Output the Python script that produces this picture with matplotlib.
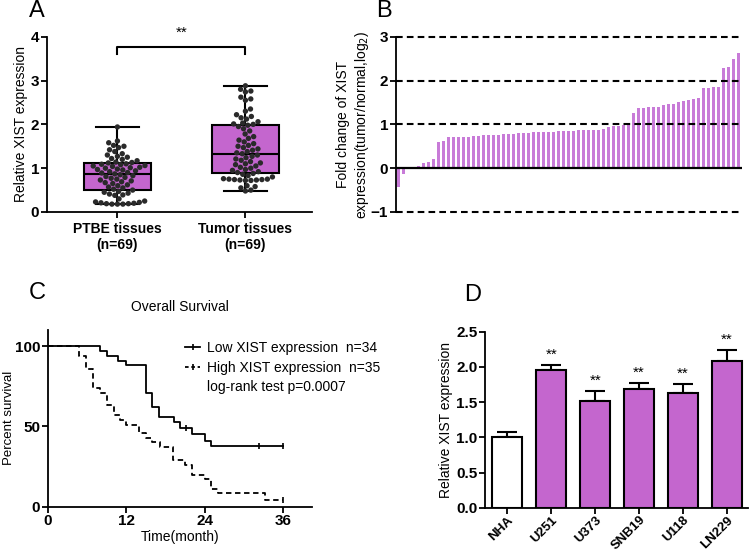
import numpy as np
import matplotlib
matplotlib.use('Agg')
import matplotlib.pyplot as plt
from matplotlib.lines import Line2D

plt.rcParams['font.family'] = ['Liberation Sans', 'DejaVu Sans']
plt.rcParams['axes.linewidth'] = 1.3
plt.rcParams['xtick.major.width'] = 1.3
plt.rcParams['ytick.major.width'] = 1.3
plt.rcParams['xtick.major.size'] = 4
plt.rcParams['ytick.major.size'] = 4

# ---------------- Panel A data ----------------
group_labels = ['PTBE tissues\n(n=69)', 'Tumor tissues\n(n=69)']
ptbe_values = [0.18, 0.18, 0.18, 0.19, 0.19, 0.20, 0.21, 0.22, 0.23, 0.25, 0.30, 0.38, 0.39, 0.41, 0.43, 0.45, 0.47,
               0.50,
               0.52, 0.55, 0.57, 0.60, 0.62, 0.65, 0.67, 0.69, 0.71, 0.73, 0.75, 0.77, 0.79, 0.81, 0.83, 0.85,
               0.87,
               0.89, 0.90, 0.92, 0.94, 0.96, 0.97, 0.98, 1.00, 1.01, 1.02, 1.04, 1.05, 1.06, 1.08, 1.09, 1.10,
               1.12,
               1.13, 1.14, 1.17, 1.20, 1.22, 1.25, 1.27, 1.30, 1.33, 1.38, 1.42, 1.47, 1.50, 1.52, 1.58, 1.62, 1.94]
tumor_values = [0.48, 0.50, 0.55, 0.58, 0.60, 0.72, 0.72, 0.73, 0.73, 0.74, 0.74, 0.75, 0.75, 0.76, 0.80, 0.83, 0.86,
                0.88,
                0.90, 0.92, 0.95, 0.97, 1.00, 1.02, 1.05, 1.08, 1.10, 1.12, 1.15, 1.18, 1.21, 1.24, 1.27, 1.30,
                1.33,
                1.35, 1.38, 1.41, 1.44, 1.47, 1.50, 1.52, 1.56, 1.60, 1.64, 1.68, 1.72, 1.78, 1.85, 1.90, 1.95,
                1.98,
                2.00, 2.01, 2.03, 2.06, 2.12, 2.15, 2.18, 2.22, 2.30, 2.35, 2.55, 2.58, 2.62, 2.74, 2.76, 2.80, 2.88]

# ---------------- Panel B data ----------------
fold_change = [-0.42, -0.13, 0.01, 0.02, 0.05, 0.12, 0.15, 0.20, 0.60, 0.63,
               0.71, 0.71, 0.71, 0.72, 0.72, 0.73, 0.74, 0.75, 0.75, 0.76,
               0.76, 0.77, 0.77, 0.79, 0.80, 0.81, 0.81, 0.82, 0.82, 0.82,
               0.83, 0.83, 0.84, 0.84, 0.85, 0.85, 0.86, 0.86, 0.87, 0.88,
               0.88, 0.89, 0.93, 0.96, 0.97, 0.98, 0.99, 1.27, 1.37, 1.38,
               1.39, 1.39, 1.40, 1.44, 1.46, 1.47, 1.50, 1.53, 1.55, 1.57,
               1.60, 1.82, 1.82, 1.85, 1.86, 2.28, 2.31, 2.50, 2.63]

# ---------------- Panel C data ----------------
low_time = [0, 8.0, 9.0, 10.8, 12.0, 15.0, 16.0, 17.1, 19.3, 20.3, 22.1, 24.0, 25.0]
low_surv = [100, 97, 94, 91, 88, 71, 62, 56, 52.5, 49, 45, 41, 37.5]
low_censor_time = [21.2, 32.3, 36.0]
low_censor_surv = [49, 37.5, 37.5]
high_time = [0, 4.8, 5.8, 7.0, 8.0, 9.0, 10.1, 11.0, 12.0, 14.0, 15.0, 16.0, 17.2, 19.2, 21.0, 22.1, 24.0, 25.0, 26.1, 33.3]
high_surv = [100, 94, 86, 74, 71, 63, 57, 54, 51, 46, 43, 40, 37, 29, 26, 20, 17, 11, 8.5, 4.2]
high_censor_time = [36.0]
high_censor_surv = [4.2]
follow_up_end = 36.0
legend_labels = ['Low XIST expression  n=34', 'High XIST expression  n=35', 'log-rank test p=0.0007']

# ---------------- Panel D data ----------------
cell_lines = ['NHA', 'U251', 'U373', 'SNB19', 'U118', 'LN229']
cell_means = [1.00, 1.95, 1.51, 1.68, 1.63, 2.09]
cell_err = [0.08, 0.08, 0.15, 0.09, 0.13, 0.15]
cell_sig = ['', '**', '**', '**', '**', '**']

PURPLE = '#C466CE'
PURPLE_B = '#C87BD8'
DOT = '#2a2a2a'

W, H = 750, 552
fig = plt.figure(figsize=(W / 100, H / 100), dpi=100)


def axes_px(left, right, top, bottom):
    return fig.add_axes([left / W, 1 - bottom / H, (right - left) / W, (bottom - top) / H])


def style(ax, size=11):
    for s in ['top', 'right']:
        ax.spines[s].set_visible(False)
    ax.tick_params(direction='out', labelsize=size, pad=1.5)
    for lab in ax.get_xticklabels() + ax.get_yticklabels():
        lab.set_fontweight('bold')


def swarm_offsets(values, d_px, px_per_x, px_per_y):
    values = np.asarray(values, dtype=float)
    order = np.argsort(values, kind='stable')
    placed = []
    offsets = np.zeros(len(values))
    for idx in order:
        y = values[idx] * px_per_y
        cands = [0.0]
        for (px, py) in placed:
            dy = y - py
            if abs(dy) < d_px:
                dx = np.sqrt(d_px ** 2 - dy ** 2)
                cands += [px + dx, px - dx]
        cands.sort(key=abs)
        chosen = cands[0]
        for c in cands:
            if all((c - px) ** 2 + (y - py) ** 2 >= d_px ** 2 - 1e-6 for px, py in placed):
                chosen = c
                break
        placed.append((chosen, y))
        offsets[idx] = chosen / px_per_x
    return offsets


# ================= Panel A =================
axA = axes_px(47, 312, 36.7, 212)
xlimA = (0.45, 2.52)
ylimA = (0, 4)
axA.set_xlim(*xlimA)
axA.set_ylim(*ylimA)
bp = axA.boxplot([ptbe_values, tumor_values], positions=[1, 2], widths=0.52, whis=(0, 100),
                 patch_artist=True, showfliers=False, capwidths=0.33, zorder=2,
                 boxprops=dict(facecolor=PURPLE, edgecolor='black', linewidth=1.5),
                 medianprops=dict(color='black', linewidth=1.5),
                 whiskerprops=dict(color='black', linewidth=1.5),
                 capprops=dict(color='black', linewidth=1.5))
px_per_x = (312 - 47) / (xlimA[1] - xlimA[0])
px_per_y = (212 - 36.7) / (ylimA[1] - ylimA[0])
for pos, vals in zip([1, 2], [ptbe_values, tumor_values]):
    off = swarm_offsets(vals, 5.5, px_per_x, px_per_y)
    axA.scatter(pos + off, vals, s=15, color=DOT, edgecolors='none', zorder=3)
axA.plot([1, 1, 2, 2], [3.6, 3.77, 3.77, 3.6], color='black', lw=1.5, clip_on=False)
axA.text(1.5, 3.92, '**', ha='center', va='bottom', fontsize=11)
axA.set_xticks([1, 2])
axA.set_xticklabels(group_labels, fontweight='bold')
axA.set_yticks([0, 1, 2, 3, 4])
axA.set_ylabel('Relative XIST expression', fontsize=10, labelpad=2)
style(axA)
axA.tick_params(axis='x', labelsize=10, pad=3)

# ================= Panel B =================
axB = axes_px(395.7, 742, 36.7, 212)
xB = np.arange(len(fold_change))
axB.bar(xB, fold_change, width=0.66, color=PURPLE_B, zorder=1)
axB.set_xlim(-0.52, len(fold_change) - 0.3)
axB.set_ylim(-1, 3)
for yv in [-1, 1, 2, 3]:
    axB.axhline(yv, color='black', lw=1.5, ls=(0, (3.2, 2.0)), zorder=3, clip_on=False)
axB.axhline(0, color='black', lw=1.6, zorder=3)
axB.spines['bottom'].set_visible(False)
axB.set_xticks([])
axB.set_yticks([-1, 0, 1, 2, 3])
axB.set_ylabel('Fold change of XIST\nexpression(tumor/normal,log$_2$)', fontsize=10)
axB.yaxis.set_label_coords(-0.072, 0.5)
style(axB)

# ================= Panel C =================
axC = axes_px(47.7, 311.7, 330, 506.7)
axC.set_xlim(0, 40.4)
axC.set_ylim(0, 110)
axC.step(low_time + [follow_up_end], low_surv + [low_surv[-1]], where='post', color='black', lw=1.3)
axC.step(high_time + [follow_up_end], high_surv + [high_surv[-1]], where='post', color='black', lw=1.3,
         ls=(0, (3, 2)))
axC.plot(low_censor_time, low_censor_surv, ls='none', marker='|', ms=5, mew=1.2, color='black')
axC.plot(high_censor_time, high_censor_surv, ls='none', marker='|', ms=5, mew=1.2, color='black')
handles = [Line2D([], [], color='black', lw=1.3, marker='|', ms=5, mew=1.2),
           Line2D([], [], color='black', lw=1.3, ls=(0, (2, 1.5)), marker='|', ms=5, mew=1.2),
           Line2D([], [], color='none', lw=0)]
axC.legend(handles, legend_labels, loc='upper left', bbox_to_anchor=(0.51, 0.955), frameon=False,
           fontsize=10, handlelength=1.1, handletextpad=0.5, labelspacing=0.42, borderaxespad=0,
           borderpad=0.2, numpoints=1)
axC.set_xticks([0, 12, 24, 36])
axC.set_yticks([0, 50, 100])
axC.set_xlabel('Time(month)', fontsize=10, labelpad=1)
axC.set_ylabel('Percent survival', fontsize=9.5)
axC.yaxis.set_label_coords(-0.122, 0.5)
axC.set_title('Overall Survival', fontsize=10, pad=14)
style(axC)

# ================= Panel D =================
axD = axes_px(485, 748, 331.7, 507.7)
xD = np.arange(len(cell_lines))
colors = ['white'] + [PURPLE] * (len(cell_lines) - 1)
axD.bar(xD, cell_means, width=0.68, color=colors, edgecolor='black', linewidth=1.5, zorder=2)
axD.errorbar(xD, cell_means, yerr=[np.zeros(len(cell_err)), cell_err], fmt='none', ecolor='black',
             elinewidth=1.5, capsize=7, capthick=1.5, zorder=1)
for xi, m, e, s in zip(xD, cell_means, cell_err, cell_sig):
    if s:
        axD.text(xi, m + e + 0.04, s, ha='center', va='bottom', fontsize=11)
axD.set_xlim(-0.51, 5.48)
axD.set_ylim(0, 2.5)
axD.set_yticks([0, 0.5, 1.0, 1.5, 2.0, 2.5])
axD.set_yticklabels(['0.0', '0.5', '1.0', '1.5', '2.0', '2.5'])
axD.set_xticks(xD)
axD.set_xticklabels(cell_lines, rotation=45, ha='right', rotation_mode='anchor')
axD.set_ylabel('Relative XIST expression', fontsize=10, labelpad=2)
style(axD)
axD.tick_params(axis='x', labelsize=9.5, pad=0.5)

# panel letters
fig.text(29 / W, 1 - 0 / H, 'A', fontsize=17, va='top')
fig.text(376 / W, 1 - 0 / H, 'B', fontsize=17, va='top')
fig.text(29 / W, 1 - 282 / H, 'C', fontsize=17, va='top')
fig.text(464 / W, 1 - 284 / H, 'D', fontsize=17, va='top')

fig.savefig('out.png', dpi=100)
